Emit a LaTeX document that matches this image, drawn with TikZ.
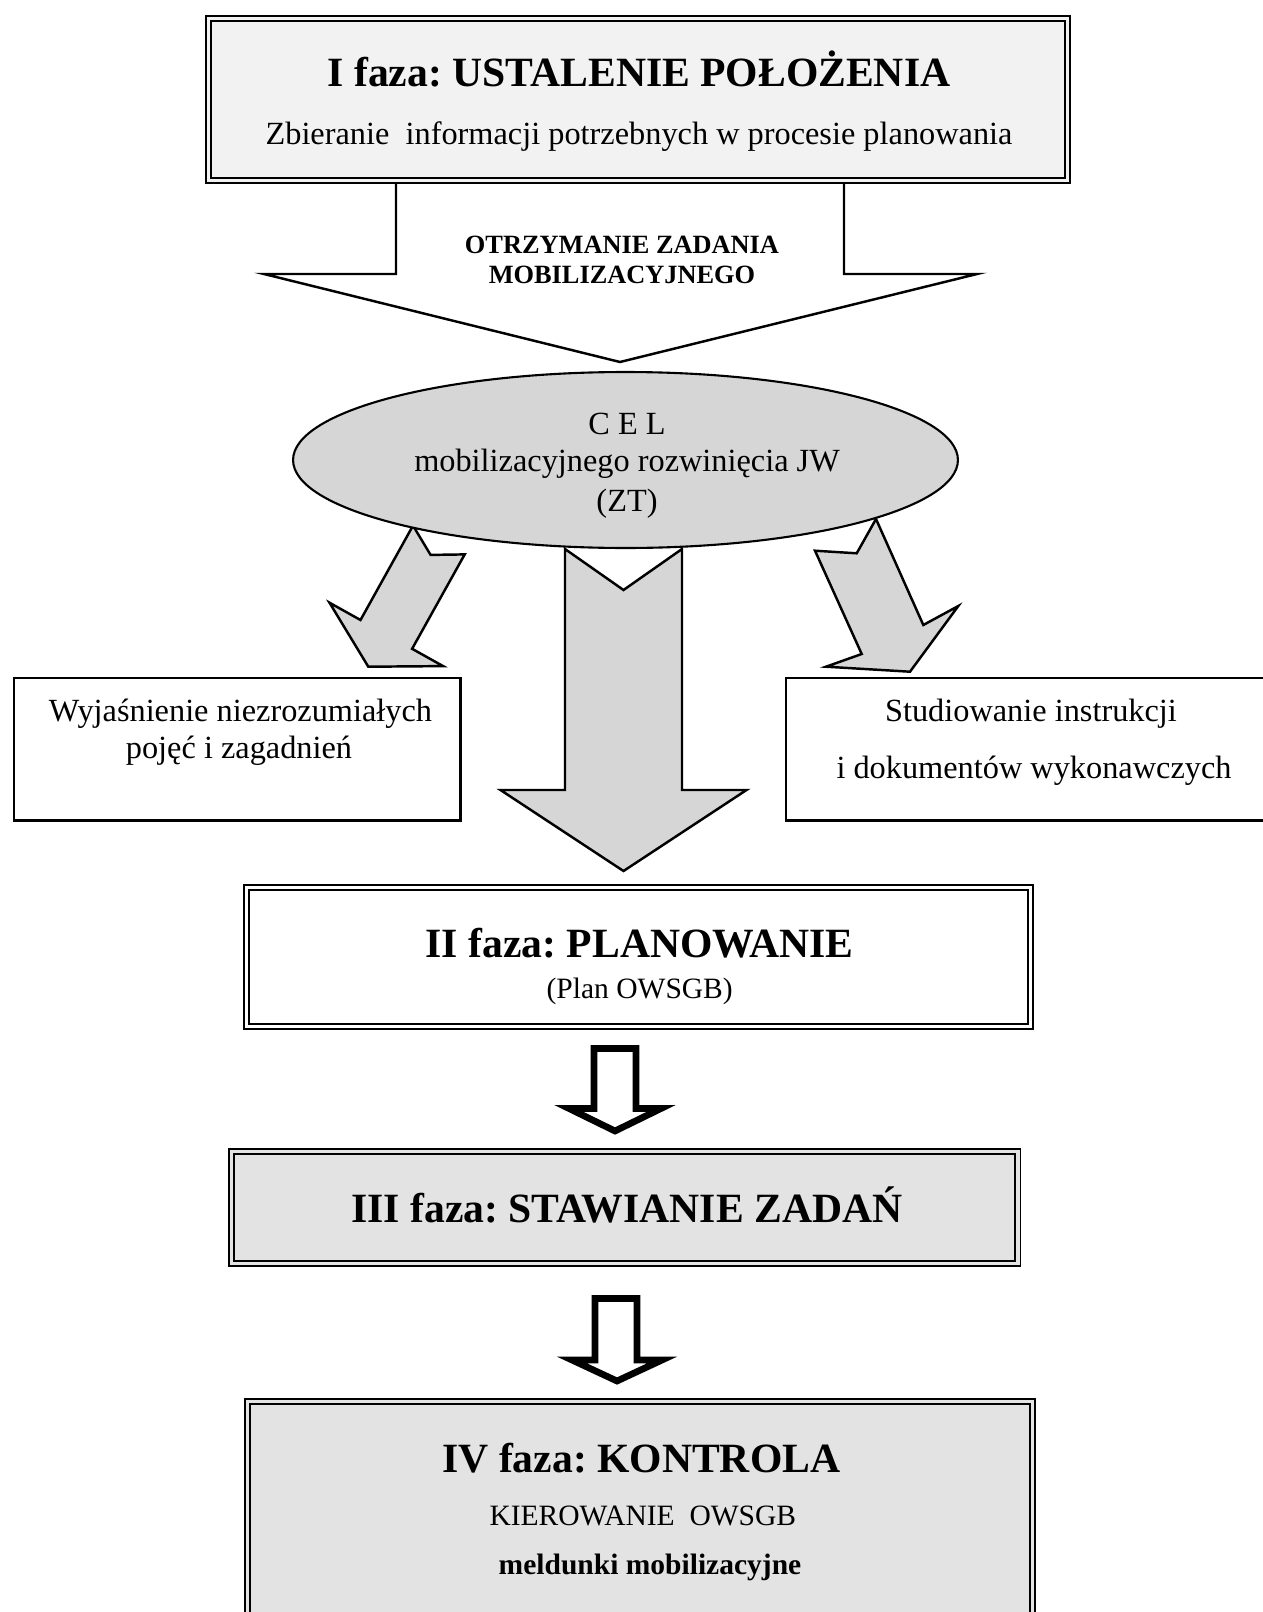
\documentclass[tikz,border=0pt]{standalone}
\usepackage{fontspec}
\setmainfont{Liberation Serif}
\usepackage{xcolor}
\usetikzlibrary{shapes.geometric}
\definecolor{celgray}{gray}{0.84}
\definecolor{boxgray}{gray}{0.89}
\definecolor{palegray}{gray}{0.95}
\frenchspacing
\newcommand{\phasefont}{\fontsize{23.7pt}{28pt}\selectfont\bfseries}
\newcommand{\plainfont}{\fontsize{18.4pt}{22pt}\selectfont}
\newcommand{\notefont}{\fontsize{16.8pt}{20pt}\selectfont}
\newcommand{\bannerfont}{\fontsize{15pt}{18pt}\selectfont\bfseries}
\tikzset{
	phase/.style={draw, line width=1.1pt, double=#1, double distance=1.8pt, fill=#1, inner sep=0pt},
	sidebox/.style={draw, line width=1.4pt, fill=white, inner sep=0pt},
	grayarrow/.style={draw, line width=1.4pt, fill=celgray, line join=miter},
	whitearrow/.style={draw, line width=1.4pt, fill=white, line join=miter},
	stepdown/.style={draw, line width=3.8pt, fill=white, line join=miter},
	txt/.style={anchor=base, inner sep=0pt}
}

\begin{document}
\begin{tikzpicture}[x=0.02cm, y=-0.02cm]
		\useasboundingbox (0,0) rectangle (1263,1612);

		% I faza
		\filldraw[whitearrow] (396,180) -- (396,274) -- (264,274) -- (620,362) -- (977,274) -- (844,274) -- (844,180);
		\node[phase=palegray, minimum width=17.18cm, minimum height=3.24cm] (faza1) at (638,99.5) {};
		\node[txt, font=\phasefont] (faza1t) at (639,87) {I faza: USTALENIE POŁOŻENIA};
		\node[txt, font=\plainfont] (faza1s) at (639,144) {Zbieranie\ \ informacji potrzebnych w procesie planowania};
		\node[txt, font=\bannerfont] (zad1) at (622,253) {OTRZYMANIE ZADANIA};
		\node[txt, font=\bannerfont] (zad2) at (622,283) {MOBILIZACYJNEGO};

		% cel
		\filldraw[grayarrow] (413,525.6) -- (430.6,554.9) -- (464.7,554.4) -- (412.1,648.8) -- (443.1,666.1) -- (368.3,666.7) -- (329.5,602.7) -- (360.5,620) -- cycle;
		\filldraw[grayarrow] (876,519) -- (923.3,625) -- (958.3,606) -- (910,671.7) -- (826,666.7) -- (861.7,654) -- (815,550.7) -- (856.7,553.3) -- cycle;
		\filldraw[grayarrow] (565,549) -- (623.5,590) -- (682,549) -- (682,790) -- (746.5,790) -- (623.5,871) -- (500.5,790) -- (565,790) -- cycle;
		\node[ellipse, draw, line width=1.2pt, fill=celgray, minimum width=13.3cm, minimum height=3.52cm, inner sep=0pt] (cel) at (625.5,460) {};
		\node[txt, font=\plainfont] (cel1) at (627,434) {C E L};
		\node[txt, font=\plainfont] (cel2) at (627,471.6) {mobilizacyjnego rozwinięcia JW};
		\node[txt, font=\plainfont] (cel3) at (627,511.2) {(ZT)};

		\node[sidebox, minimum width=8.93cm, minimum height=2.85cm] (wyj) at (237.25,749.25) {};
		\node[txt, font=\plainfont] (wyj1) at (240.5,721.7) {Wyjaśnienie niezrozumiałych};
		\node[txt, font=\plainfont] (wyj2) at (239,758.3) {pojęć i zagadnień};
		\node[sidebox, minimum width=9.78cm, minimum height=2.85cm] (stud) at (1030.5,749.25) {};
		\node[txt, font=\plainfont] (stud1) at (1031,721.7) {Studiowanie instrukcji};
		\node[txt, font=\plainfont] (stud2) at (1034,778.3) {i dokumentów wykonawczych};

		% II - IV faza
		\node[phase=white, minimum width=15.69cm, minimum height=2.78cm] (faza2) at (638.25,957) {};
		\node[txt, font=\phasefont] (faza2t) at (639.7,957) {II faza: PLANOWANIE};
		\node[txt, font=\notefont] (faza2s) at (639.7,998) {(Plan OWSGB)};

		\filldraw[stepdown] (594,1048.5) -- (636,1048.5) -- (636,1108.5) -- (661,1108.5) -- (615,1131) -- (569,1108.5) -- (594,1108.5) -- cycle;

		\node[phase=boxgray, minimum width=15.73cm, minimum height=2.24cm] (faza3) at (624.75,1207.5) {};
		\node[txt, font=\phasefont] (faza3t) at (626.9,1222) {III faza: STAWIANIE ZADAŃ};

		\filldraw[stepdown] (595,1298.5) -- (637,1298.5) -- (637,1360) -- (662,1360) -- (617,1381) -- (572,1360) -- (595,1360) -- cycle;

		\node[phase=boxgray, minimum width=15.71cm, minimum height=4.78cm] (faza4) at (639.75,1520.75) {};
		\node[txt, font=\phasefont] (faza4t) at (641.3,1472) {IV faza: KONTROLA};
		\node[txt, font=\notefont] (faza4a) at (642.8,1525.7) {KIEROWANIE\ \ OWSGB};
		\node[txt, font=\notefont\bfseries] (faza4b) at (650,1574.5) {meldunki mobilizacyjne};
	\end{tikzpicture}
\end{document}
